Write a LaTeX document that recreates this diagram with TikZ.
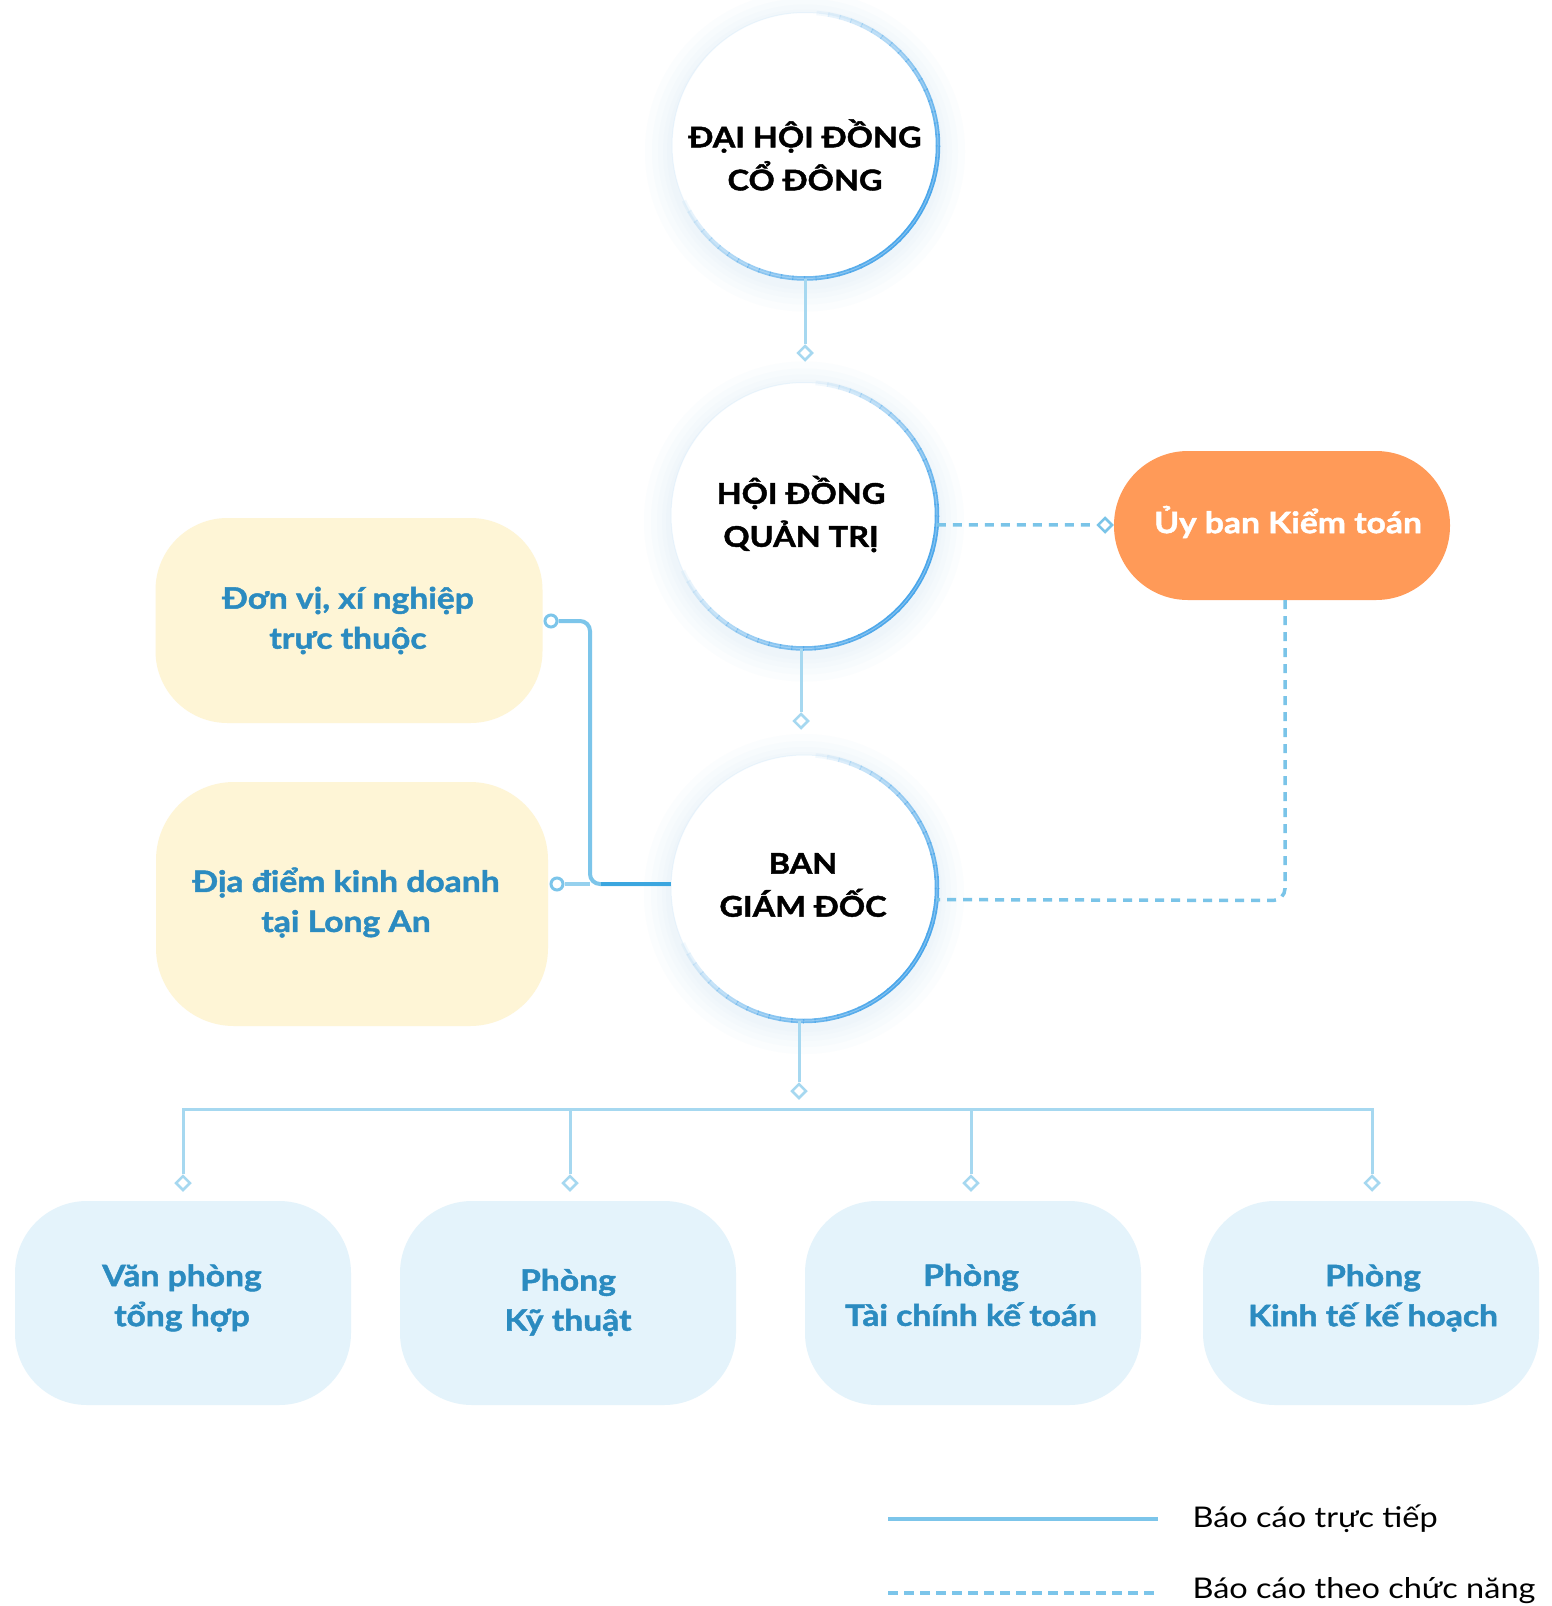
\documentclass[tikz,border=0pt]{standalone}
\usepackage{fontspec}
\setmainfont{Lato}[FakeStretch=1.14, BoldFeatures={FakeBold=1.5}]
\usetikzlibrary{shapes.geometric,calc}
\definecolor{txtblue}{HTML}{2B8BC0}
\definecolor{boxblue}{HTML}{E4F3FB}
\definecolor{yellowbox}{HTML}{FEF5D6}
\definecolor{orangebox}{HTML}{FF9A58}
\definecolor{linelight}{HTML}{A6D8F0}
\definecolor{dashblue}{HTML}{7AC4E8}
\definecolor{rimblue}{HTML}{4AA6EA}
\definecolor{glowblue}{HTML}{D6E9F6}
\definecolor{darkline}{HTML}{3BA6DF}
\definecolor{midline}{HTML}{7CC5EA}
\tikzset{
  bigcircle/.style={circle, fill=white, minimum size=266pt, inner sep=0pt},
  headtext/.style={font=\fontsize{28.5}{43}\selectfont\bfseries, align=center, text=black},
  bluetext/.style={font=\fontsize{29.5}{40}\selectfont\bfseries, align=center, text=txtblue},
  legtext/.style={font=\fontsize{28.5}{34}\selectfont, anchor=west, text=black},
  conn/.style={draw=linelight, line width=3pt},
  dashconn/.style={draw=dashblue, line width=3.5pt, dash pattern=on 9pt off 7pt},
  dia/.style={diamond, draw=linelight, fill=white, line width=2.5pt, minimum size=15pt, inner sep=0pt},
  diadash/.style={dia, draw=dashblue},
  bluebox/.style={rectangle, rounded corners=72pt, fill=boxblue, minimum width=336pt, minimum height=204pt},
  yellowbox1/.style={rectangle, rounded corners=72pt, fill=yellowbox},
  pill/.style={rectangle, rounded corners=74pt, fill=orangebox, minimum width=336pt, minimum height=149pt},
  ring/.style={circle, draw=midline, fill=white, line width=3pt, minimum size=12pt, inner sep=0pt},
  rim/.style={draw=rimblue, line width=4.5pt}
}
\begin{document}
\begin{tikzpicture}[x=1pt,y=-1pt]
\useasboundingbox (0,0) rectangle (1551,1606);
\fill[white] (0,0) rectangle (1551,1606);

% glow
\foreach \cx/\cy in {805/145.5, 804/515.5, 804/888}{
  \foreach \r in {160,153,147,142,138}{
    \fill[glowblue, opacity=0.09] (\cx,\cy+6) circle[radius=\r];
  }
}

% circles
\node[bigcircle] (c1) at (805,145.5) {};
\node[bigcircle] (c2) at (804,515.5) {};
\node[bigcircle] (c3) at (804,888) {};

% rims
\foreach \cx/\cy in {805/145.5, 804/515.5, 804/888}{
  \foreach \a in {-85,-80,...,150}{
    \pgfmathsetmacro\op{max(0,sin((\a+90)/245*180))}
    \draw[rim, draw opacity=\op] (\cx,\cy) ++(\a:133) arc[start angle=\a, end angle=\a+5.5, radius=133];
  }
  \draw[draw=rimblue!25, line width=1pt, opacity=0.4] (\cx,\cy) circle[radius=133];
}

% texts in circles
\node[headtext] (t1) at (805,155) {ĐẠI HỘI ĐỒNG\\CỔ ĐÔNG};
\node[headtext] (t2) at (801,514) {HỘI ĐỒNG\\QUẢN TRỊ};
\node[headtext] (t3) at (803,885) {BAN\\GIÁM ĐỐC};

% orange pill
\node[pill] (q) at (1282,525.5) {};
\node[font=\fontsize{29.5}{34}\selectfont\bfseries, text=white] (tq) at (1288,522) {Ủy ban Kiểm toán};

% yellow boxes
\node[yellowbox1, minimum width=387pt, minimum height=205pt] (y1) at (349,620.5) {};
\node[yellowbox1, minimum width=392pt, minimum height=244pt, rounded corners=78pt] (y2) at (352,904) {};
\node[bluetext] (ty1) at (348,620.5) {Đơn vị, xí nghiệp\\trực thuộc};
\node[bluetext] (ty2) at (346,902.5) {Địa điểm kinh doanh\\tại Long An};

% bottom boxes
\node[bluebox] (b1) at (183,1303) {};
\node[bluebox] (b2) at (568,1303) {};
\node[bluebox] (b3) at (973,1303) {};
\node[bluebox] (b4) at (1371,1303) {};
\node[bluetext] (tb1) at (182,1298) {Văn phòng\\tổng hợp};
\node[bluetext] (tb2) at (568,1302.5) {Phòng\\Kỹ thuật};
\node[bluetext] (tb3) at (971,1295) {Phòng\\Tài chính kế toán};
\node[bluetext] (tb4) at (1373,1298) {Phòng\\Kinh tế kế hoạch};

% diamonds
\node[dia] (d1) at (805,353) {};
\node[dia] (d2) at (801,721) {};
\node[dia] (d3) at (799,1091) {};
\node[dia] (d4) at (183,1183) {};
\node[dia] (d5) at (570,1183) {};
\node[dia] (d6) at (971,1183) {};
\node[dia] (d7) at (1372,1183) {};
\node[diadash] (dq) at (1105,525) {};

% vertical solid connectors
\draw[conn] (c1.south) -- (d1.north);
\draw[conn] (d2.north |- c2.south) -- (d2.north);
\draw[conn] (d3.north |- c3.south) -- (d3.north);
\coordinate (bus) at (799,1109);
\draw[conn] (d4.north) -- (d4.north |- bus) -- (d7.north |- bus) -- (d7.north);
\draw[conn] (d5.north |- bus) -- (d5.north);
\draw[conn] (d6.north |- bus) -- (d6.north);

% dashed connectors
\draw[dashconn] (c2.-4.1) -- (dq.west);
\coordinate (qbot) at (1285,900.5);
\draw[dashconn, rounded corners=12pt] (q.south -| qbot) -- (qbot) -- (c3.-5.4);

% left connectors
\node[ring] (o1) at (551,621) {};
\node[ring] (o2) at (557,884) {};
\coordinate (vj) at (590,884);
\draw[draw=midline, line width=4pt, rounded corners=10pt] (o1.east) -- (590,621) -- (vj) -- (c3.west |- vj);
\draw[draw=darkline, line width=4pt] (601,884) -- (c3.west |- vj);
\draw[draw=midline!80, line width=4pt] (o2.east) -- (vj);

% legend
\coordinate (l1a) at (888,1519);
\coordinate (l1b) at (1158,1519);
\coordinate (l2a) at (888,1593);
\coordinate (l2b) at (1158,1593);
\draw[draw=midline, line width=4pt] (l1a) -- (l1b);
\draw[draw=midline, line width=4pt, dash pattern=on 10pt off 6pt] (l2a) -- (l2b);
\node[legtext] (lg1) at (1189,1519) {Báo cáo trực tiếp};
\node[legtext] (lg2) at (1189,1591) {Báo cáo theo chức năng};
\end{tikzpicture}
\end{document}
